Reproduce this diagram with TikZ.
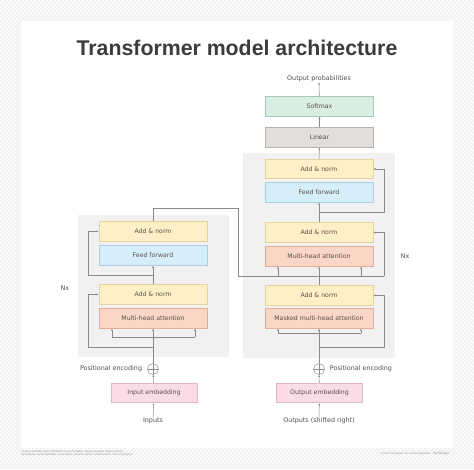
\documentclass[tikz,border=0pt]{standalone}
\usepackage{fontspec}
\setmainfont{DejaVu Sans}
\newfontfamily\titlefont{Liberation Sans}
\usetikzlibrary{arrows.meta,positioning}
\definecolor{anfill}{HTML}{FDF0C6}
\definecolor{anline}{HTML}{E6D49C}
\definecolor{fffill}{HTML}{D6EEFA}
\definecolor{ffline}{HTML}{A9CFE3}
\definecolor{mhfill}{HTML}{FAD6C6}
\definecolor{mhline}{HTML}{E2AE98}
\definecolor{smfill}{HTML}{D8EEE1}
\definecolor{smline}{HTML}{A9CBB6}
\definecolor{lnfill}{HTML}{E2DEDB}
\definecolor{lnline}{HTML}{B9B2AC}
\definecolor{emfill}{HTML}{FADCE6}
\definecolor{emline}{HTML}{E6B2C4}
\definecolor{panel}{HTML}{F1F1F1}
\definecolor{wirec}{HTML}{8A8A8A}
\definecolor{txt}{HTML}{5B4F45}
\definecolor{lbltxt}{HTML}{505050}
\definecolor{titlec}{HTML}{3C3C3C}
\tikzset{
  blk/.style={rectangle, minimum width=108pt, minimum height=19.5pt, inner sep=0pt, line width=0.6pt, text=txt, font=\fontsize{6.2}{7}\selectfont},
  an/.style={blk, fill=anfill, draw=anline},
  ff/.style={blk, fill=fffill, draw=ffline},
  mh/.style={blk, fill=mhfill, draw=mhline},
  sm/.style={blk, fill=smfill, draw=smline},
  ln/.style={blk, fill=lnfill, draw=lnline},
  em/.style={blk, minimum width=86pt, fill=emfill, draw=emline},
  pe/.style={circle, draw=wirec, line width=0.5pt, minimum size=11pt, inner sep=0pt, fill=white,
    path picture={\draw[wirec, line width=0.5pt] (path picture bounding box.west) -- (path picture bounding box.east)
      (path picture bounding box.north) -- (path picture bounding box.south);}},
  lbl/.style={text=lbltxt, font=\fontsize{6.4}{7.5}\selectfont, inner sep=0pt},
  wire/.style={draw=wirec, line width=0.5pt},
  arr/.style={wire, -{Latex[length=2.2pt,width=2pt]}},
  tiny/.style={text=black!45, font=\fontsize{2.2}{2.8}\selectfont, inner sep=0pt}
}
\begin{document}
\begin{tikzpicture}[x=1pt,y=-1pt]
	\useasboundingbox (0,0) rectangle (474,469);
	% hatched frame
	\begin{scope}
	\clip (0,0) rectangle (474,469);
	\fill[black!6] (0,0) rectangle (474,469);
	\foreach \i in {0,4,...,944}
		\draw[white,line width=1pt] (\i,0) -- ++(-470,470);
	\end{scope}
	\fill[white] (21,21) rectangle (453,448);
	%
	\node[text=titlec, font=\titlefont\bfseries\fontsize{21.3}{24}\selectfont] (title) at (237,48) {Transformer model architecture};
	% panels
	\fill[panel] (78,215) rectangle (229,357);
	\fill[panel] (243,153) rectangle (395,358);
	% encoder
	\node[an] (eAN2) at (153,231.5) {Add \& norm};
	\node[ff] (eFF) at (153,255.5) {Feed forward};
	\node[an] (eAN1) at (153,294.5) {Add \& norm};
	\node[mh] (eMHA) at (153,318.5) {Multi-head attention};
	\node[pe] (epe) at (153,369) {};
	\node[lbl, left=5pt of epe] (epeLbl) {Positional encoding};
	\node[em] (eemb) at (154,393) {Input embedding};
	\node[lbl] (einp) at (153,421) {Inputs};
	\node[lbl] (eNx) at (65,288) {Nx};
	% decoder
	\node[lbl] (prob) at (319,79) {Output probabilities};
	\node[sm] (sm) at (319.5,106.5) {Softmax};
	\node[ln] (lin) at (319.5,137.5) {Linear};
	\node[an] (dAN3) at (319,169) {Add \& norm};
	\node[ff] (dFF) at (319,192.5) {Feed forward};
	\node[an] (dAN2) at (319,232.5) {Add \& norm};
	\node[mh] (dMHA) at (319,256.5) {Multi-head attention};
	\node[an] (dAN1) at (319,295.5) {Add \& norm};
	\node[mh] (dMMHA) at (319,318.5) {Masked multi-head attention};
	\node[pe] (dpe) at (319,369) {};
	\node[lbl, right=5pt of dpe] (dpeLbl) {Positional encoding};
	\node[em] (demb) at (319.5,393) {Output embedding};
	\node[lbl] (dout) at (319,421) {Outputs (shifted right)};
	\node[lbl] (dNx) at (405,256) {Nx};
	% footer
	\node[tiny, anchor=north west, align=left] (src) at (21,450.5) {SOURCE: ADAPTED FROM `ATTENTION IS ALL YOU NEED,' ASHISH VASWANI, NOAM SHAZEER,\\NIKI PARMAR, JAKOB USZKOREIT, LLION JONES, AIDAN N. GOMEZ, LUKASZ KAISER, ILLIA POLOSUKHIN};
	\node[tiny, anchor=east] (copy) at (431,454) {\textcopyright 2023 TECHTARGET. ALL RIGHTS RESERVED.};
	\node[tiny, font=\fontsize{3}{4}\selectfont, anchor=west] (tt) at (433,454) {TechTarget};
	%
	\coordinate (er1) at (88,347);
	\coordinate (eq) at (112,337);
	\coordinate (ev) at (195,337);
	\coordinate (er2) at (88,275);
	\coordinate (eo1) at (153,208);
	\coordinate (eo2) at (238,208);
	\coordinate (x1) at (238,276);
	\coordinate (dr1) at (384,347);
	\coordinate (dq) at (278,333);
	\coordinate (dv) at (361,333);
	\coordinate (dk) at (278,276);
	\coordinate (dk2) at (361,276);
	\coordinate (dr2) at (384,276);
	\coordinate (dr3) at (384,212);
	% encoder wires
	\draw[arr] (einp) -- (eemb);
	\draw[arr] (eemb) -- (epe);
	\draw[arr] (epe) -- (eMHA);
	\draw[wire] (eq) -- (ev);
	\draw[arr] (eq) -- (eq |- eMHA.south);
	\draw[arr] (ev) -- (ev |- eMHA.south);
	\draw[arr] (epe.north |- er1) -- (er1) |- (eAN1.west);
	\draw[arr] (eAN1) -- (eFF);
	\draw[arr] (eAN1.north |- er2) -- (er2) |- (eAN2.west);
	\draw[wire] (eAN2.north) -- (eo1) -- (eo2) -- (x1) -- (dr2);
	% decoder wires
	\draw[arr] (dout) -- (demb);
	\draw[arr] (demb) -- (dpe);
	\draw[arr] (dpe) -- (dMMHA);
	\draw[wire] (dq) -- (dv);
	\draw[arr] (dq) -- (dq |- dMMHA.south);
	\draw[arr] (dv) -- (dv |- dMMHA.south);
	\draw[arr] (dpe.north |- dr1) -- (dr1) |- (dAN1.east);
	\draw[arr] (dAN1) -- (dMHA);
	\draw[arr] (dk) -- (dk |- dMHA.south);
	\draw[arr] (dk2) -- (dk2 |- dMHA.south);
	\draw[arr] (dr2) |- (dAN2.east);
	\draw[arr] (dAN2) -- (dFF);
	\draw[arr] (dAN2.north |- dr3) -- (dr3) |- (dAN3.east);
	\draw[arr] (dAN3) -- (lin);
	\draw[arr] (lin) -- (sm);
	\draw[arr] (sm) -- (prob);
\end{tikzpicture}
\end{document}
